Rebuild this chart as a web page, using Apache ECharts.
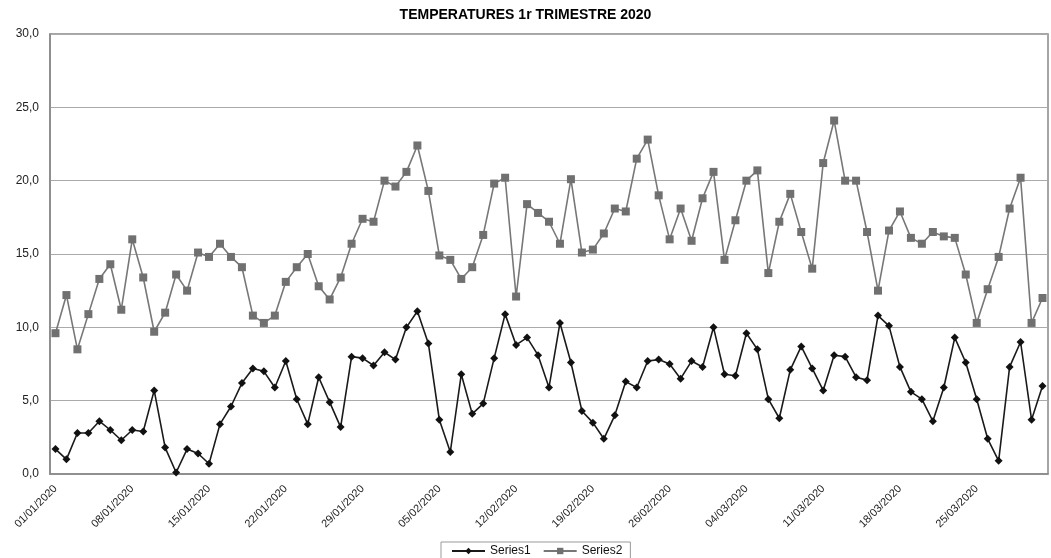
<!DOCTYPE html>
<html>
<head>
<meta charset="utf-8">
<script src="https://cdn.jsdelivr.net/npm/echarts@6/dist/echarts.min.js"></script>
<style>
html,body{margin:0;padding:0;background:#fff;}
#chart{width:1051px;height:558px;}
</style>
</head>
<body>
<div id="chart"></div>
<script>
// Categories: daily dates from 01/01/2020 to 31/03/2020
const startDate = [2020, 0, 1];
const dayCount = 91;
const categories = [];
for (let i = 0; i < dayCount; i++) {
  const d = new Date(Date.UTC(startDate[0], startDate[1], startDate[2] + i));
  const dd = String(d.getUTCDate()).padStart(2, '0');
  const mm = String(d.getUTCMonth() + 1).padStart(2, '0');
  categories.push(dd + '/' + mm + '/' + d.getUTCFullYear());
}

const series1 = [
  1.7, 1.0, 2.8, 2.8, 3.6, 3.0, 2.3, 3.0, 2.9, 5.7,
  1.8, 0.1, 1.7, 1.4, 0.7, 3.4, 4.6, 6.2, 7.2, 7.0,
  5.9, 7.7, 5.1, 3.4, 6.6, 4.9, 3.2, 8.0, 7.9, 7.4,
  8.3, 7.8, 10.0, 11.1, 8.9, 3.7, 1.5, 6.8, 4.1, 4.8,
  7.9, 10.9, 8.8, 9.3, 8.1, 5.9, 10.3, 7.6, 4.3, 3.5,
  2.4, 4.0, 6.3, 5.9, 7.7, 7.8, 7.5, 6.5, 7.7, 7.3,
  10.0, 6.8, 6.7, 9.6, 8.5, 5.1, 3.8, 7.1, 8.7, 7.2,
  5.7, 8.1, 8.0, 6.6, 6.4, 10.8, 10.1, 7.3, 5.6, 5.1,
  3.6, 5.9, 9.3, 7.6, 5.1, 2.4, 0.9, 7.3, 9.0, 3.7,
  6.0
];

const series2 = [
  9.6, 12.2, 8.5, 10.9, 13.3, 14.3, 11.2, 16.0, 13.4, 9.7,
  11.0, 13.6, 12.5, 15.1, 14.8, 15.7, 14.8, 14.1, 10.8, 10.3,
  10.8, 13.1, 14.1, 15.0, 12.8, 11.9, 13.4, 15.7, 17.4, 17.2,
  20.0, 19.6, 20.6, 22.4, 19.3, 14.9, 14.6, 13.3, 14.1, 16.3,
  19.8, 20.2, 12.1, 18.4, 17.8, 17.2, 15.7, 20.1, 15.1, 15.3,
  16.4, 18.1, 17.9, 21.5, 22.8, 19.0, 16.0, 18.1, 15.9, 18.8,
  20.6, 14.6, 17.3, 20.0, 20.7, 13.7, 17.2, 19.1, 16.5, 14.0,
  21.2, 24.1, 20.0, 20.0, 16.5, 12.5, 16.6, 17.9, 16.1, 15.7,
  16.5, 16.2, 16.1, 13.6, 10.3, 12.6, 14.8, 18.1, 20.2, 10.3,
  12.0
];

const yTicks = { min: 0, max: 30, interval: 5 };

const font = '"Liberation Sans", Arial, sans-serif';
const chart = echarts.init(document.getElementById('chart'), null, { renderer: 'canvas' });
chart.setOption({
  animation: false,
  backgroundColor: '#ffffff',
  title: {
    text: 'TEMPERATURES 1r TRIMESTRE 2020',
    left: 'center',
    top: 3,
    textStyle: { fontFamily: font, fontSize: 14, fontWeight: 'bold', color: '#000' }
  },
  legend: {
    bottom: -2,
    left: 441,
    itemWidth: 33,
    itemHeight: 8,
    itemGap: 12,
    padding: [3, 8, 3, 10],
    borderColor: '#999',
    borderWidth: 1,
    borderRadius: 0,
    textStyle: { fontFamily: font, fontSize: 12, color: '#111' },
    data: ['Series1', 'Series2']
  },
  grid: {
    left: 50, top: 34, right: 3, bottom: 84,
    show: true, borderColor: '#888', borderWidth: 1.5
  },
  xAxis: {
    type: 'category',
    data: categories,
    boundaryGap: true,
    axisLine: { lineStyle: { color: '#888', width: 1.5 } },
    axisTick: { show: false },
    axisLabel: {
      interval: 6,
      rotate: 45,
      fontFamily: font,
      fontSize: 11,
      color: '#222',
      margin: 13
    }
  },
  yAxis: {
    type: 'value',
    min: yTicks.min,
    max: yTicks.max,
    interval: yTicks.interval,
    axisLine: { show: true, lineStyle: { color: '#888', width: 1.5 } },
    axisTick: { show: false },
    splitLine: { lineStyle: { color: '#aaa', width: 1 } },
    axisLabel: {
      fontFamily: font,
      fontSize: 12,
      color: '#222',
      margin: 11,
      formatter: v => v.toFixed(1).replace('.', ',')
    }
  },
  series: [
    {
      name: 'Series1',
      type: 'line',
      data: series1,
      symbol: 'diamond',
      symbolSize: 8,
      showAllSymbol: true,
      lineStyle: { color: '#1a1a1a', width: 1.6 },
      itemStyle: { color: '#111' }
    },
    {
      name: 'Series2',
      type: 'line',
      data: series2,
      symbol: 'rect',
      symbolSize: 8,
      showAllSymbol: true,
      lineStyle: { color: '#777', width: 1.6 },
      itemStyle: { color: '#707070' }
    }
  ]
});
</script>
</body>
</html>
